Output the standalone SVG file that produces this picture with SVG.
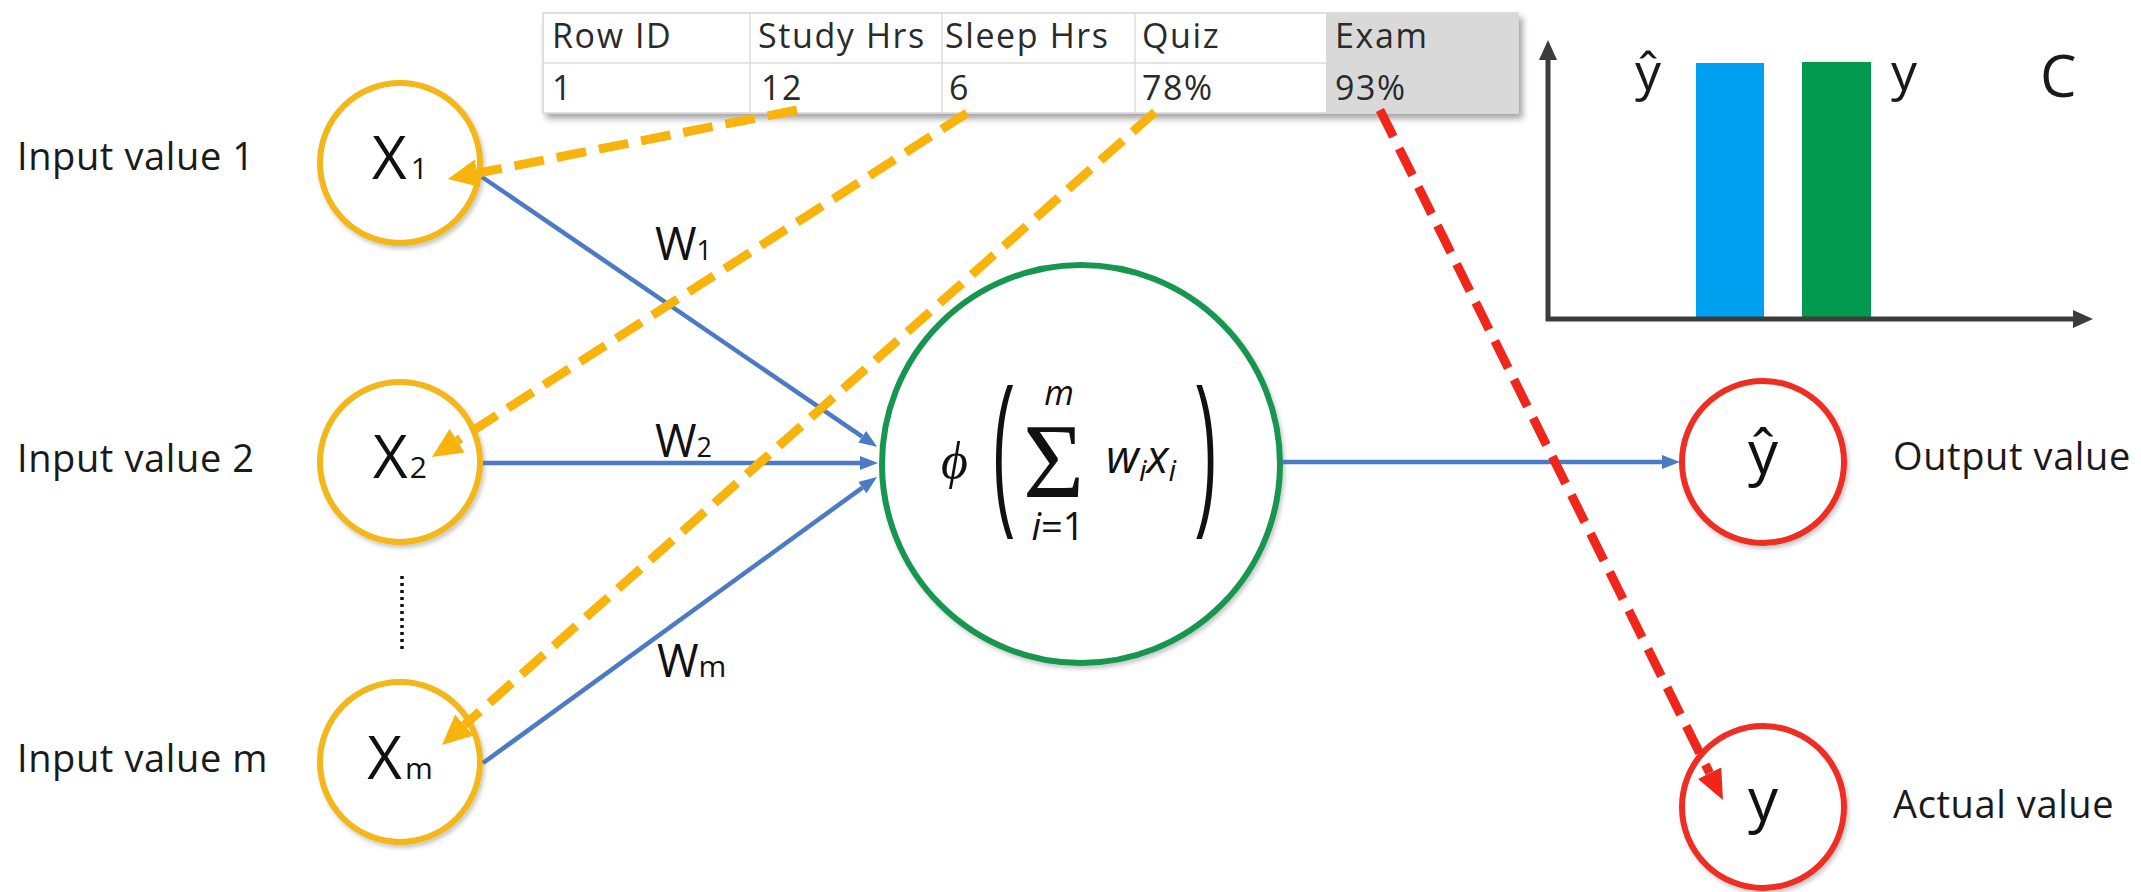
<svg xmlns="http://www.w3.org/2000/svg" width="2141" height="892" viewBox="0 0 2141 892">
<defs>
<style>
.lbl{font-family:"Open Sans","Liberation Sans",sans-serif;font-size:38px;fill:#1a1a1a;letter-spacing:0.6px}
.tbl{font-family:"Open Sans","Liberation Sans",sans-serif;font-size:34px;fill:#2a2a2a;letter-spacing:1.6px}
.var{font-family:"Open Sans","Liberation Sans",sans-serif;font-size:60px;fill:#111}
.sub{font-size:30px}
.w{font-family:"Open Sans","Liberation Sans",sans-serif;font-size:45px;fill:#111}
.inp{fill:#fff;stroke:#F3B71B;stroke-width:6}
.out{fill:#fff;stroke:#EE2E22;stroke-width:6}
.neu{fill:#fff;stroke:#17964F;stroke-width:6}
.blue{fill:none;stroke:#4A7BC4;stroke-width:4.5}
.yel{fill:none;stroke:#F8B30C;stroke-width:9;stroke-dasharray:30 13}
.red{fill:none;stroke:#F0261B;stroke-width:9;stroke-dasharray:30 13}
.axis{fill:none;stroke:#3c3c3c;stroke-width:5}
.grid{stroke:#dcdcdc;stroke-width:1.5}
.math{font-family:"Open Sans","DejaVu Sans",sans-serif;font-style:italic;fill:#111}
.paren{font-family:"Liberation Sans",sans-serif;font-size:56px;fill:#111}
.chart{font-family:"Open Sans","Liberation Sans",sans-serif;fill:#1a1a1a}
</style>
<filter id="sh" x="-20%" y="-20%" width="140%" height="140%"><feDropShadow dx="2" dy="3" stdDeviation="2" flood-color="#000" flood-opacity="0.22"/></filter>
<filter id="tsh" x="-5%" y="-20%" width="110%" height="150%"><feDropShadow dx="4" dy="5" stdDeviation="3" flood-color="#000" flood-opacity="0.35"/></filter>
<marker id="ay" markerUnits="userSpaceOnUse" markerWidth="30" markerHeight="28" viewBox="0 0 30 28" refX="0" refY="14" orient="auto"><path d="M0,0 L30,14 L0,28 Z" fill="#F8B30C"/></marker>
<marker id="ar" markerUnits="userSpaceOnUse" markerWidth="30" markerHeight="26" viewBox="0 0 30 26" refX="0" refY="13" orient="auto"><path d="M0,0 L30,13 L0,26 Z" fill="#F0261B"/></marker>
<marker id="ab" markerUnits="userSpaceOnUse" markerWidth="18" markerHeight="14" viewBox="0 0 18 14" refX="0" refY="7" orient="auto"><path d="M0,0 L18,7 L0,14 Z" fill="#4A7BC4"/></marker>
<marker id="ak" markerUnits="userSpaceOnUse" markerWidth="20" markerHeight="18" viewBox="0 0 20 18" refX="0" refY="9" orient="auto"><path d="M0,0 L20,9 L0,18 Z" fill="#3c3c3c"/></marker>
</defs>
<rect width="2141" height="892" fill="#fff"/>

<g id="table">
<rect x="543" y="13" width="975" height="100" fill="#fff" stroke="#d6d6d6" stroke-width="1.5" filter="url(#tsh)"/>
<rect x="1326" y="13" width="192" height="100" fill="#d9d9d9"/>
<line class="grid" x1="543" y1="63" x2="1326" y2="63"/>
<line class="grid" x1="750" y1="13" x2="750" y2="113"/>
<line class="grid" x1="942" y1="13" x2="942" y2="113"/>
<line class="grid" x1="1135" y1="13" x2="1135" y2="113"/>
<text class="tbl" x="552" y="48">Row ID</text>
<text class="tbl" x="758" y="48">Study Hrs</text>
<text class="tbl" x="945" y="48">Sleep Hrs</text>
<text class="tbl" x="1142" y="48">Quiz</text>
<text class="tbl" x="1335" y="48">Exam</text>
<text class="tbl" x="552" y="100">1</text>
<text class="tbl" x="761" y="100">12</text>
<text class="tbl" x="949" y="100">6</text>
<text class="tbl" x="1142" y="100">78%</text>
<text class="tbl" x="1335" y="100">93%</text>
</g>

<g id="labels">
<text class="lbl" x="17" y="170">Input value 1</text>
<text class="lbl" x="17" y="472">Input value 2</text>
<text class="lbl" x="17" y="772">Input value m</text>
<text class="lbl" x="1893" y="470">Output value</text>
<text class="lbl" x="1893" y="818">Actual value</text>
<line x1="402" y1="576" x2="402" y2="652" stroke="#111" stroke-width="3.5" stroke-dasharray="3 4"/>
</g>

<g id="x1">
<circle class="inp" cx="400" cy="163" r="80" filter="url(#sh)"/>
<text class="var" x="400" y="179" text-anchor="middle">X<tspan class="sub" dx="4">1</tspan></text>
</g>
<g id="x2">
<circle class="inp" cx="400" cy="462" r="80" filter="url(#sh)"/>
<text class="var" x="400" y="478" text-anchor="middle">X<tspan class="sub" dx="2">2</tspan></text>
</g>
<g id="xm">
<circle class="inp" cx="400" cy="762" r="80" filter="url(#sh)"/>
<text class="var" x="400" y="779" text-anchor="middle">X<tspan class="sub" dx="3">m</tspan></text>
</g>

<g id="neuron">
<circle class="neu" cx="1081" cy="464" r="199" filter="url(#sh)"/>
<text x="941" y="478" font-family="Liberation Serif, DejaVu Serif, serif" font-style="italic" font-size="52" fill="#111">ϕ</text>
<text class="paren" transform="translate(992,540) scale(1.15,2.95)" x="0" y="-11.8">(</text>
<text class="paren" transform="translate(1196,540) scale(1.15,2.95)" x="0" y="-11.8">)</text>
<text x="1023" y="497" font-family="Liberation Serif" font-size="105" fill="#111">Σ</text>
<text class="math" x="1059" y="405" text-anchor="middle" font-size="34">m</text>
<text x="1058" y="540" text-anchor="middle" font-family="Open Sans, DejaVu Sans, sans-serif" font-size="38" fill="#111"><tspan font-style="italic">i</tspan>=1</text>
<text class="math" x="1106" y="473" font-size="46">w<tspan font-size="30" dy="8">i</tspan><tspan dy="-8">x</tspan><tspan font-size="30" dy="8">i</tspan></text>
</g>

<g id="yhat">
<circle class="out" cx="1763" cy="462" r="81" filter="url(#sh)"/>
<text class="var" x="1763" y="474" text-anchor="middle" font-size="54">ŷ</text>
</g>
<g id="y">
<circle class="out" cx="1763" cy="807" r="81" filter="url(#sh)"/>
<text class="var" x="1763" y="821" text-anchor="middle" font-size="54">y</text>
</g>

<g id="chart">
<rect x="1696" y="63" width="68" height="256" fill="#00A0F0"/>
<rect x="1802" y="62" width="69" height="257" fill="#00994D"/>
<line class="axis" x1="1548" y1="321" x2="1548" y2="60" marker-end="url(#ak)"/>
<line class="axis" x1="1546" y1="319" x2="2073" y2="319" marker-end="url(#ak)"/>
<text class="chart" x="1635" y="90" font-size="52">ŷ</text>
<text class="chart" x="1891" y="90" font-size="52">y</text>
<text class="chart" x="2040" y="97" font-size="58">C</text>
</g>

<g id="connectors">
<path class="blue" d="M482,177 L862.2,436.7" marker-end="url(#ab)"/>
<path class="blue" d="M483,463 L860,463" marker-end="url(#ab)"/>
<path class="blue" d="M483,763 L862.4,487.6" marker-end="url(#ab)"/>
<path class="blue" d="M1282,462 L1662,462" marker-end="url(#ab)"/>
<text class="w" x="655" y="260">W<tspan font-size="27">1</tspan></text>
<text class="w" x="655" y="457">W<tspan font-size="27">2</tspan></text>
<text class="w" x="657" y="677">W<tspan font-size="30">m</tspan></text>
<path class="yel" d="M797,110 L477.4,173.2" marker-end="url(#ay)"/>
<path class="yel" d="M967,113 L457.2,440.8" marker-end="url(#ay)"/>
<path class="yel" d="M1155,112 L464.4,725.1" marker-end="url(#ay)"/>
<path class="red" d="M1380,110 L1709.6,773.1" marker-end="url(#ar)"/>
</g>
</svg>
